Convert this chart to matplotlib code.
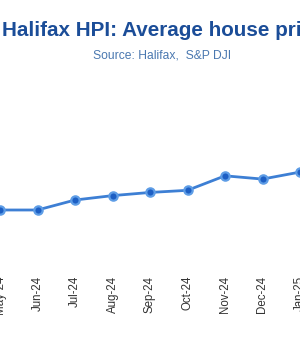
import matplotlib
matplotlib.use("Agg")
import matplotlib.pyplot as plt

months = ["May-24", "Jun-24", "Jul-24", "Aug-24", "Sep-24", "Oct-24", "Nov-24", "Dec-24", "Jan-25"]
prices = [288455, 288455, 291268, 292505, 293399, 293999, 298083, 297166, 299138]

title = "Halifax HPI: Average house price"
subtitle = "Source: Halifax,  S&P DJI"

plt.rcParams['font.family'] = ['Liberation Sans', 'DejaVu Sans']

W, H = 300, 349
fig = plt.figure(figsize=(W / 100, H / 100), dpi=100)

# axes spanning full width; bottom at pixel 270, top at pixel 70
ax = fig.add_axes([0, 1 - 270 / H, 1, 200 / H])
x = list(range(len(months)))
ax.plot(x, prices, color='#3d7fd4', lw=2, marker='o', markersize=6,
        markerfacecolor='#1d5fc4', markeredgecolor='#5e9de6', markeredgewidth=1.6)
ax.set_xlim(0, len(months) - 1)
px_per_unit = 0.00355
ax.set_ylim(prices[0] - 60 / px_per_unit, prices[0] + 140 / px_per_unit)
ax.set_xticks(x)
ax.set_xticklabels(months, rotation=90, fontsize=8.3, color='#333333')
ax.tick_params(axis='x', length=0, pad=4)
ax.set_yticks([])
for s in ax.spines.values():
    s.set_visible(False)

fig.text(2 / W, 1 - 36 / H, title, ha='left', va='baseline', fontsize=14.85,
         fontweight='bold', color='#1b4d98')
fig.text(162 / W, 1 - 59 / H, subtitle, ha='center', va='baseline', fontsize=8.7,
         color='#4a78b0')

fig.savefig("out.png", dpi=100)
